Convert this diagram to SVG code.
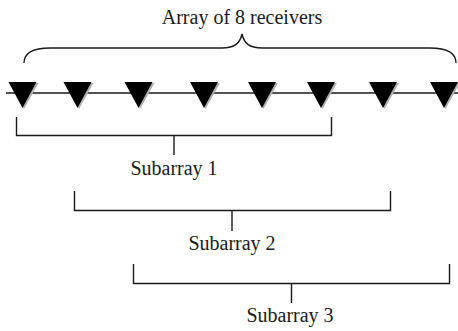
<svg xmlns="http://www.w3.org/2000/svg" width="458" height="331" viewBox="0 0 458 331">
<style>
.t{font-family:"Liberation Serif","Times New Roman",serif;font-size:20px;fill:#1a1a1a;text-anchor:middle}
.ln{fill:none;stroke:#1a1a1a;stroke-width:1.4}
.rx{fill:#000}
.sh{fill:#b0b0b0}
</style>
<defs>
<g id="rcv">
<polygon class="sh" points="-12.5,-10 16,-10 1.5,16"/>
<polygon class="rx" points="-14,-11 14,-11 0,15"/>
</g>
</defs>
<g id="connectors">
<line class="ln" x1="6" y1="93" x2="458" y2="93"/>
<path id="brace" class="ln" d="M24,63 C24,53 32,48 50,48 L222,48 C235,48 240,43 242,34 C244,43 249,48 262,48 L430,48 C448,48 456,53 456,63"/>
</g>
<g id="receivers">
<use href="#rcv" x="22.5" y="93"/>
<use href="#rcv" x="77.5" y="93"/>
<use href="#rcv" x="138.5" y="93"/>
<use href="#rcv" x="204" y="93"/>
<use href="#rcv" x="262" y="93"/>
<use href="#rcv" x="321" y="93"/>
<use href="#rcv" x="383" y="93"/>
<use href="#rcv" x="444" y="93"/>
</g>
<g id="title"><text class="t" x="242" y="24">Array of 8 receivers</text></g>
<g id="subarray1">
<path class="ln" d="M16.5,117 V135.5 H331.5 V117 M174,135.5 V155"/>
<text class="t" x="174" y="175">Subarray 1</text>
</g>
<g id="subarray2">
<path class="ln" d="M74.5,191 V210.5 H390.5 V191 M232,210.5 V231"/>
<text class="t" x="232" y="250">Subarray 2</text>
</g>
<g id="subarray3">
<path class="ln" d="M133.5,264 V283.5 H449.5 V264 M291.5,283.5 V303"/>
<text class="t" x="290" y="322">Subarray 3</text>
</g>
</svg>
